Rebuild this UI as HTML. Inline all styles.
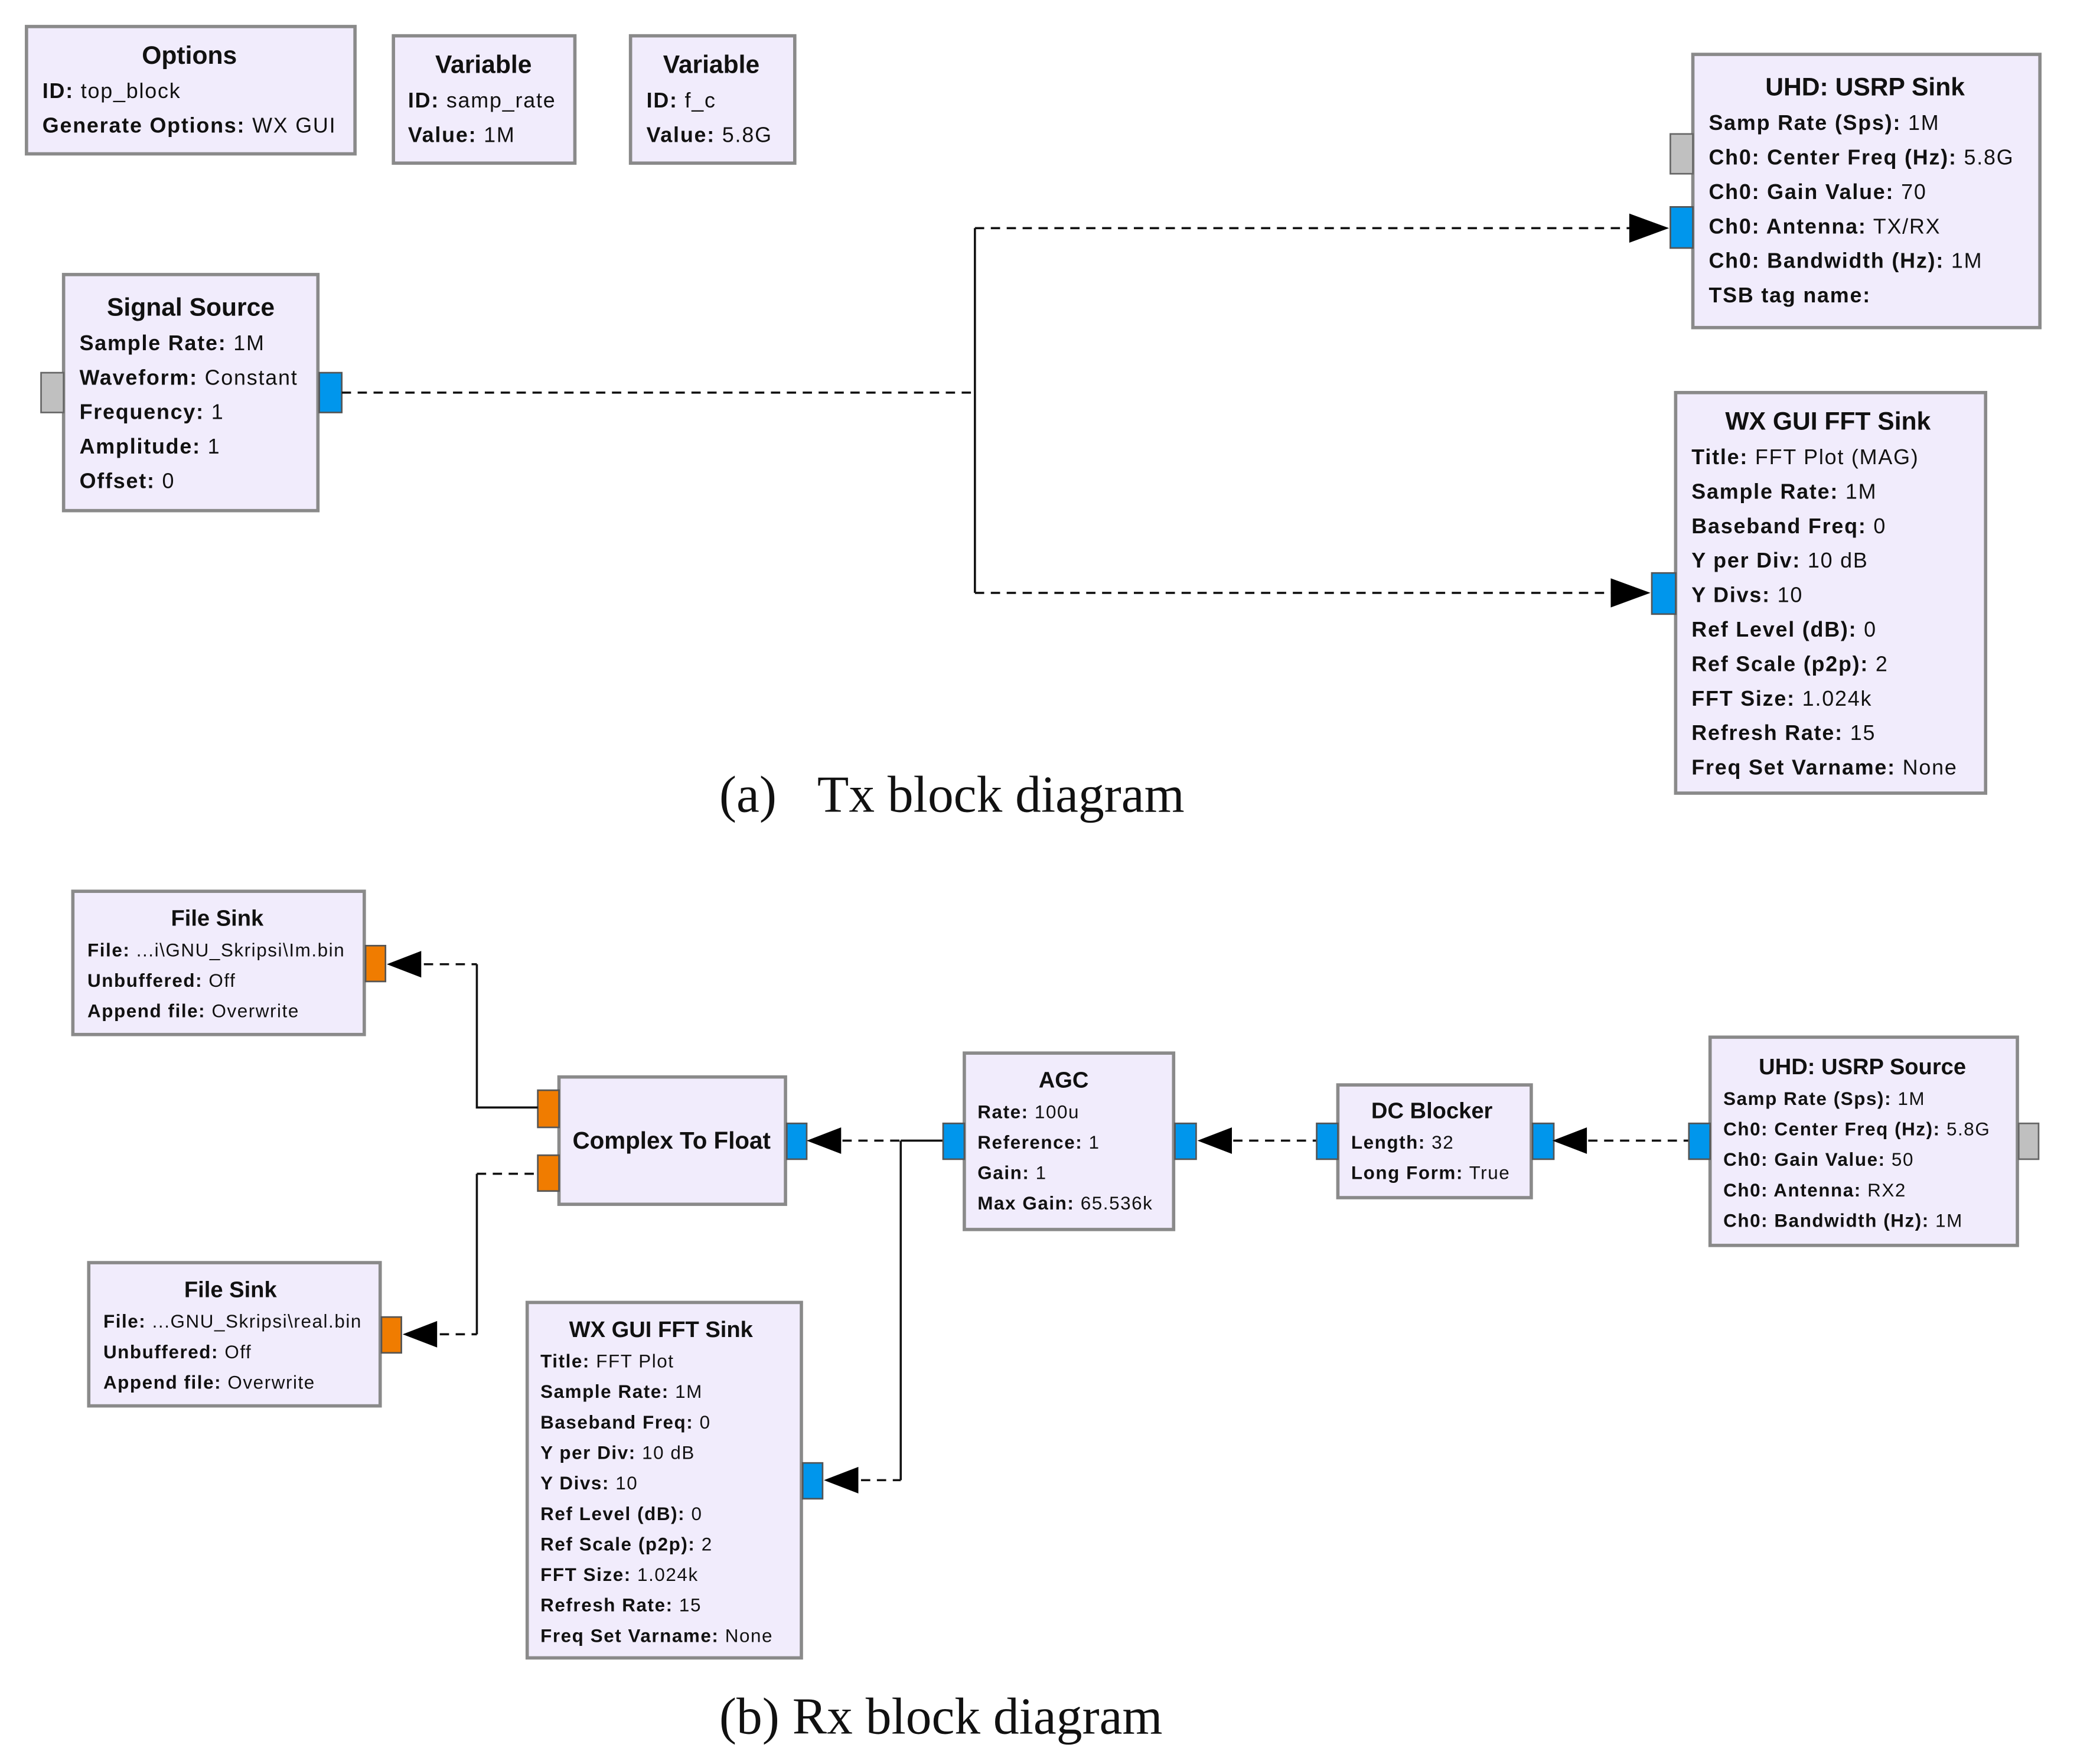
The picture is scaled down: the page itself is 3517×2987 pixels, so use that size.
<!DOCTYPE html>
<html><head><meta charset="utf-8"><style>html,body{margin:0;padding:0;background:#fff}svg{display:block}</style></head>
<body>
<svg width="3517" height="2987" viewBox="0 0 1568 1330" preserveAspectRatio="none" xmlns="http://www.w3.org/2000/svg" font-family="Liberation Sans, sans-serif">
<defs><style>
.b{fill:#f1ecfc;stroke:#8a8a8a;stroke-width:2.5}
.t{font-weight:bold;font-size:19px;text-anchor:middle;fill:#111}
.f{font-size:16px;letter-spacing:0.8px;fill:#111}
.s{font-size:14px;letter-spacing:0.7px;fill:#111}
.k{font-weight:bold}
.blue{fill:#0096ec;stroke:#555;stroke-width:1.2}
.grey{fill:#c0c0c0;stroke:#666;stroke-width:1.2}
.or{fill:#f07c00;stroke:#555;stroke-width:1.2}
.d{stroke:#111;stroke-width:1.6;stroke-dasharray:7,5;fill:none}
.l{stroke:#111;stroke-width:1.6;fill:none}
.cap{font-family:"Liberation Serif",serif;font-size:39px;fill:#111}
</style></defs>

<rect class="b" x="20" y="20" width="248" height="96"/>
<text class="t" x="143" y="48">Options</text>
<text class="f" x="32" y="74"><tspan class="k">ID:</tspan> top_block</text>
<text class="f" x="32" y="100"><tspan class="k">Generate Options:</tspan> WX GUI</text>

<rect class="b" x="297" y="27" width="137" height="96"/>
<text class="t" x="365" y="55">Variable</text>
<text class="f" x="308" y="81"><tspan class="k">ID:</tspan> samp_rate</text>
<text class="f" x="308" y="107"><tspan class="k">Value:</tspan> 1M</text>

<rect class="b" x="476" y="27" width="124" height="96"/>
<text class="t" x="537" y="55">Variable</text>
<text class="f" x="488" y="81"><tspan class="k">ID:</tspan> f_c</text>
<text class="f" x="488" y="107"><tspan class="k">Value:</tspan> 5.8G</text>

<rect class="b" x="1278" y="41" width="262" height="206"/>
<text class="t" x="1408" y="72">UHD: USRP Sink</text>
<text class="f" x="1290" y="98"><tspan class="k">Samp Rate (Sps):</tspan> 1M</text>
<text class="f" x="1290" y="124"><tspan class="k">Ch0: Center Freq (Hz):</tspan> 5.8G</text>
<text class="f" x="1290" y="150"><tspan class="k">Ch0: Gain Value:</tspan> 70</text>
<text class="f" x="1290" y="176"><tspan class="k">Ch0: Antenna:</tspan> TX/RX</text>
<text class="f" x="1290" y="202"><tspan class="k">Ch0: Bandwidth (Hz):</tspan> 1M</text>
<text class="f" x="1290" y="228"><tspan class="k">TSB tag name:</tspan></text>
<rect class="grey" x="1261" y="101" width="17" height="30"/>
<rect class="blue" x="1261" y="156" width="17" height="31"/>

<rect class="b" x="48" y="207" width="192" height="178"/>
<text class="t" x="144" y="238">Signal Source</text>
<text class="f" x="60" y="264"><tspan class="k">Sample Rate:</tspan> 1M</text>
<text class="f" x="60" y="290"><tspan class="k">Waveform:</tspan> Constant</text>
<text class="f" x="60" y="316"><tspan class="k">Frequency:</tspan> 1</text>
<text class="f" x="60" y="342"><tspan class="k">Amplitude:</tspan> 1</text>
<text class="f" x="60" y="368"><tspan class="k">Offset:</tspan> 0</text>
<rect class="grey" x="31" y="281" width="17" height="30"/>
<rect class="blue" x="241" y="281" width="17" height="30"/>

<path class="d" d="M258,296 H736"/>
<path class="l" d="M736,172 V447"/>
<path class="d" d="M736,172 H1232"/>
<path class="d" d="M736,447 H1218"/>
<polygon points="1260,172 1230,161 1230,183" fill="#000"/>
<polygon points="1246,447 1216,436 1216,458" fill="#000"/>

<rect class="b" x="1265" y="296" width="234" height="302"/>
<text class="t" x="1380" y="324">WX GUI FFT Sink</text>
<text class="f" x="1277" y="350"><tspan class="k">Title:</tspan> FFT Plot (MAG)</text>
<text class="f" x="1277" y="376"><tspan class="k">Sample Rate:</tspan> 1M</text>
<text class="f" x="1277" y="402"><tspan class="k">Baseband Freq:</tspan> 0</text>
<text class="f" x="1277" y="428"><tspan class="k">Y per Div:</tspan> 10 dB</text>
<text class="f" x="1277" y="454"><tspan class="k">Y Divs:</tspan> 10</text>
<text class="f" x="1277" y="480"><tspan class="k">Ref Level (dB):</tspan> 0</text>
<text class="f" x="1277" y="506"><tspan class="k">Ref Scale (p2p):</tspan> 2</text>
<text class="f" x="1277" y="532"><tspan class="k">FFT Size:</tspan> 1.024k</text>
<text class="f" x="1277" y="558"><tspan class="k">Refresh Rate:</tspan> 15</text>
<text class="f" x="1277" y="584"><tspan class="k">Freq Set Varname:</tspan> None</text>
<rect class="blue" x="1247" y="432" width="18" height="31"/>

<text class="cap" x="543" y="612">(a)</text>
<text class="cap" x="617" y="612">Tx block diagram</text>

<rect class="b" x="55" y="672" width="220" height="108"/>
<text class="t" x="164" y="698" style="font-size:17px">File Sink</text>
<text class="s" x="66" y="721"><tspan class="k">File:</tspan> ...i\GNU_Skripsi\Im.bin</text>
<text class="s" x="66" y="744"><tspan class="k">Unbuffered:</tspan> Off</text>
<text class="s" x="66" y="767"><tspan class="k">Append file:</tspan> Overwrite</text>
<rect class="or" x="276" y="713" width="15" height="27"/>

<rect class="b" x="67" y="952" width="220" height="108"/>
<text class="t" x="174" y="978" style="font-size:17px">File Sink</text>
<text class="s" x="78" y="1001"><tspan class="k">File:</tspan> ...GNU_Skripsi\real.bin</text>
<text class="s" x="78" y="1024"><tspan class="k">Unbuffered:</tspan> Off</text>
<text class="s" x="78" y="1047"><tspan class="k">Append file:</tspan> Overwrite</text>
<rect class="or" x="288" y="993" width="15" height="27"/>

<rect class="b" x="422" y="812" width="171" height="96"/>
<text class="t" x="507" y="866" style="font-size:18px">Complex To Float</text>
<rect class="or" x="406" y="822" width="16" height="28"/>
<rect class="or" x="406" y="871" width="16" height="27"/>
<rect class="blue" x="594" y="847" width="15" height="27"/>

<path class="d" d="M320,727 H360"/>
<path class="l" d="M360,727 V835 H406"/>
<polygon points="292,727 318,717 318,737" fill="#000"/>
<path class="d" d="M332,1006 H360"/>
<path class="l" d="M360,1006 V885"/>
<path class="d" d="M360,885 H406"/>
<polygon points="304,1006 330,996 330,1016" fill="#000"/>

<path class="d" d="M636,860 H680"/>
<path class="l" d="M680,860 H712 M680,860 V1116"/>
<path class="d" d="M650,1116 H680"/>
<polygon points="609,860 635,850 635,870" fill="#000"/>
<polygon points="622,1116 648,1106 648,1126" fill="#000"/>

<rect class="b" x="728" y="794" width="158" height="133"/>
<text class="t" x="803" y="820" style="font-size:17px">AGC</text>
<text class="s" x="738" y="843"><tspan class="k">Rate:</tspan> 100u</text>
<text class="s" x="738" y="866"><tspan class="k">Reference:</tspan> 1</text>
<text class="s" x="738" y="889"><tspan class="k">Gain:</tspan> 1</text>
<text class="s" x="738" y="912"><tspan class="k">Max Gain:</tspan> 65.536k</text>
<rect class="blue" x="712" y="847" width="16" height="27"/>
<rect class="blue" x="887" y="847" width="16" height="27"/>
<path class="d" d="M931,860 H994"/>
<polygon points="904,860 930,850 930,870" fill="#000"/>

<rect class="b" x="1010" y="818" width="146" height="85"/>
<text class="t" x="1081" y="843" style="font-size:17px">DC Blocker</text>
<text class="s" x="1020" y="866"><tspan class="k">Length:</tspan> 32</text>
<text class="s" x="1020" y="889"><tspan class="k">Long Form:</tspan> True</text>
<rect class="blue" x="994" y="847" width="16" height="27"/>
<rect class="blue" x="1157" y="847" width="16" height="27"/>
<path class="d" d="M1199,860 H1275"/>
<polygon points="1172,860 1198,850 1198,870" fill="#000"/>

<rect class="b" x="1291" y="782" width="232" height="157"/>
<text class="t" x="1406" y="810" style="font-size:17px">UHD: USRP Source</text>
<text class="s" x="1301" y="833"><tspan class="k">Samp Rate (Sps):</tspan> 1M</text>
<text class="s" x="1301" y="856"><tspan class="k">Ch0: Center Freq (Hz):</tspan> 5.8G</text>
<text class="s" x="1301" y="879"><tspan class="k">Ch0: Gain Value:</tspan> 50</text>
<text class="s" x="1301" y="902"><tspan class="k">Ch0: Antenna:</tspan> RX2</text>
<text class="s" x="1301" y="925"><tspan class="k">Ch0: Bandwidth (Hz):</tspan> 1M</text>
<rect class="blue" x="1275" y="847" width="16" height="27"/>
<rect class="grey" x="1524" y="847" width="15" height="27"/>

<rect class="b" x="398" y="982" width="207" height="268"/>
<text class="t" x="499" y="1008" style="font-size:17px">WX GUI FFT Sink</text>
<text class="s" x="408" y="1031"><tspan class="k">Title:</tspan> FFT Plot</text>
<text class="s" x="408" y="1054"><tspan class="k">Sample Rate:</tspan> 1M</text>
<text class="s" x="408" y="1077"><tspan class="k">Baseband Freq:</tspan> 0</text>
<text class="s" x="408" y="1100"><tspan class="k">Y per Div:</tspan> 10 dB</text>
<text class="s" x="408" y="1123"><tspan class="k">Y Divs:</tspan> 10</text>
<text class="s" x="408" y="1146"><tspan class="k">Ref Level (dB):</tspan> 0</text>
<text class="s" x="408" y="1169"><tspan class="k">Ref Scale (p2p):</tspan> 2</text>
<text class="s" x="408" y="1192"><tspan class="k">FFT Size:</tspan> 1.024k</text>
<text class="s" x="408" y="1215"><tspan class="k">Refresh Rate:</tspan> 15</text>
<text class="s" x="408" y="1238"><tspan class="k">Freq Set Varname:</tspan> None</text>
<rect class="blue" x="606" y="1103" width="15" height="27"/>

<text class="cap" x="543" y="1307">(b) Rx block diagram</text>
</svg>
</body></html>
